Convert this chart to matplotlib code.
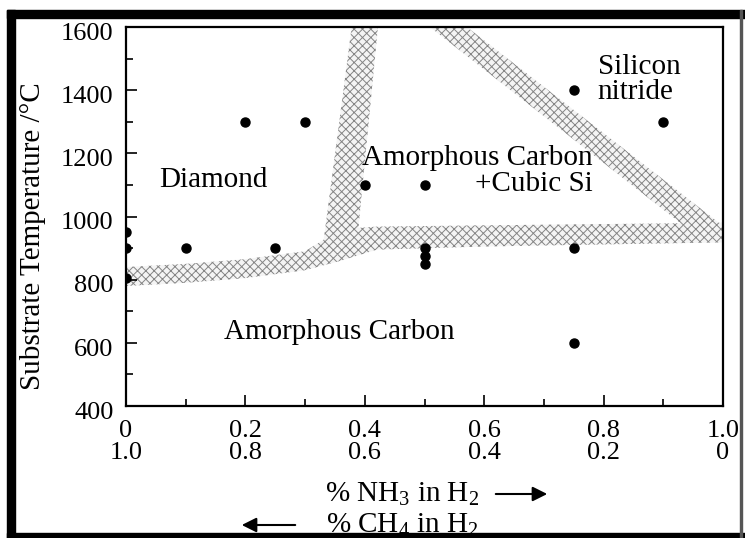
import matplotlib
matplotlib.use('Agg')
import matplotlib.pyplot as plt
import matplotlib.transforms as mtransforms
from matplotlib.patches import Rectangle
from matplotlib.ticker import MultipleLocator

plt.rcParams['font.family'] = 'Liberation Serif'
plt.rcParams['mathtext.fontset'] = 'custom'
plt.rcParams['mathtext.rm'] = 'Liberation Serif'
plt.rcParams['mathtext.it'] = 'Liberation Serif:italic'
plt.rcParams['hatch.linewidth'] = 0.7

# measured points (% NH3 in H2, substrate temperature)
nh3 = [0.0, 0.0, 0.0, 0.1, 0.2, 0.25, 0.3, 0.4, 0.5, 0.5, 0.5, 0.5, 0.75, 0.75, 0.75, 0.9]
temp = [950, 900, 805, 900, 1300, 900, 1300, 1100, 1100, 900, 875, 850, 1400, 900, 600, 1300]

# phase boundary bands
low_x = [0.0, 0.1, 0.2, 0.3, 0.36, 0.42, 0.6, 1.0]
low_lower = [780, 790, 805, 830, 860, 895, 905, 918]
low_upper = [840, 850, 865, 890, 960, 968, 972, 980]

vert_T = [880, 1600]
vert_left = [0.328, 0.378]
vert_right = [0.385, 0.422]

diag_T = [970, 1600]
diag_left = [0.935, 0.509]
diag_right = [1.0, 0.571]

nh3_ticks = [0.0, 0.2, 0.4, 0.6, 0.8, 1.0]
tick_labels = ['0\n1.0', '0.2\n0.8', '0.4\n0.6', '0.6\n0.4', '0.8\n0.2', '1.0\n0']
temp_ticks = [400, 600, 800, 1000, 1200, 1400, 1600]

W, H = 745, 538
fig = plt.figure(figsize=(W / 100, H / 100), dpi=100)
ax = fig.add_axes([126 / W, 1 - 406 / H, (723 - 126) / W, (406 - 27) / H])

band = dict(facecolor='#f4f4f4', edgecolor='#858585', hatch='xxxx', linewidth=0, zorder=1)
ax.fill_between(low_x, low_lower, low_upper, **band)
ax.fill_betweenx(vert_T, vert_left, vert_right, **band)
ax.fill_betweenx(diag_T, diag_left, diag_right, **band)

ax.plot(nh3, temp, 'o', color='black', markersize=6.5, zorder=3)

ax.set_xlim(0, 1.0)
ax.set_ylim(400, 1600)
ax.set_xticks(nh3_ticks)
ax.set_xticklabels(tick_labels, linespacing=1.0)
ax.set_yticks(temp_ticks)
ax.xaxis.set_minor_locator(MultipleLocator(0.1))
ax.yaxis.set_minor_locator(MultipleLocator(100))
ax.tick_params(which='both', direction='in', top=False, right=False, labelsize=19, width=1.2)
ax.tick_params(which='major', length=8)
ax.tick_params(which='minor', length=5)
ax.tick_params(axis='y', pad=9)
ax.tick_params(axis='x', pad=10)
for s in ax.spines.values():
    s.set_linewidth(1.6)

# y tick labels sit a little below their ticks in the original
shift = mtransforms.ScaledTranslation(0, -3 / 72, fig.dpi_scale_trans)
for lab in ax.get_yticklabels():
    lab.set_transform(lab.get_transform() + shift)

ax.set_ylabel('Substrate Temperature /°C', fontsize=21)
ax.yaxis.set_label_coords(-80 / (723 - 126), 0.449)

txt = dict(fontsize=21, zorder=4)
ax.text(0.146, 1116, 'Diamond', ha='center', va='center', **txt)
ax.text(0.782, 1186, 'Amorphous Carbon', ha='right', va='center', **txt)
ax.text(0.782, 1102, '+Cubic Si', ha='right', va='center', **txt)
ax.text(0.79, 1473, 'Silicon', ha='left', va='center', **txt)
ax.text(0.79, 1394, 'nitride', ha='left', va='center', **txt)
ax.text(0.357, 634, 'Amorphous Carbon', ha='center', va='center', **txt)

fig.text(402 / W, 1 - 494 / H, '% NH$_3$ in H$_2$', ha='center', va='center', fontsize=21)
fig.text(402 / W, 1 - 525 / H, '% CH$_4$ in H$_2$', ha='center', va='center', fontsize=21)
arrow = dict(arrowstyle='-|>', color='black', lw=1.5, mutation_scale=22)
ax.annotate('', xy=(550, H - 494), xytext=(493, H - 494), xycoords='figure pixels',
            textcoords='figure pixels', arrowprops=arrow)
ax.annotate('', xy=(239, H - 525), xytext=(298, H - 525), xycoords='figure pixels',
            textcoords='figure pixels', arrowprops=arrow)

# black frame around the picture
fig.patches.append(Rectangle((7 / W, 1 - 18 / H), 738 / W, 8 / H, transform=fig.transFigure,
                             color='black', zorder=10))
fig.patches.append(Rectangle((7 / W, 0), 8 / W, 1 - 10 / H, transform=fig.transFigure,
                             color='black', zorder=10))
fig.patches.append(Rectangle((7 / W, 0), 738 / W, 5 / H, transform=fig.transFigure,
                             color='black', zorder=10))
fig.patches.append(Rectangle((740 / W, 0), 1.5 / W, 1 - 10 / H, transform=fig.transFigure,
                             color='#555555', zorder=10))

fig.savefig('out.png', dpi=100)
